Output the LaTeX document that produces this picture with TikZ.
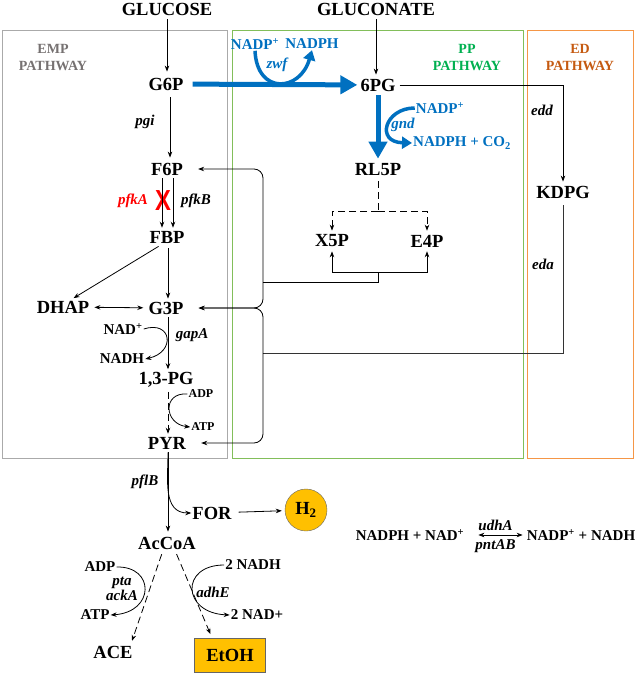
\documentclass[tikz,border=0pt]{standalone}
\usepackage{fontspec}
\setmainfont{Liberation Serif}
\newfontfamily\crossfont{Liberation Sans}
\usepackage{tikz}
\usetikzlibrary{arrows.meta,positioning,calc}

\definecolor{ppblue}{RGB}{0,112,192}
\definecolor{ppgreen}{RGB}{0,176,80}
\definecolor{boxgreen}{RGB}{130,190,90}
\definecolor{edorange}{RGB}{197,90,17}
\definecolor{boxorange}{RGB}{245,150,70}
\definecolor{empgray}{RGB}{118,113,113}
\definecolor{boxgray}{RGB}{170,170,170}
\definecolor{gold}{RGB}{255,192,0}

\tikzset{
  met/.style={font=\fontsize{18.5}{18.5}\selectfont\bfseries, inner sep=1pt},
  enz/.style={font=\fontsize{15}{15}\selectfont\bfseries\itshape, inner sep=1pt},
  cof/.style={font=\fontsize{15}{15}\selectfont\bfseries, inner sep=1pt},
  small/.style={font=\fontsize{12}{12}\selectfont\bfseries, inner sep=1pt},
  lbl/.style={font=\fontsize{14}{17}\selectfont\bfseries, align=center, inner sep=1pt},
  rxn/.style={line width=0.8pt, -{Stealth[length=6pt,width=4.5pt]}},
  rev/.style={line width=0.8pt, {Stealth[length=6pt,width=4.5pt]}-{Stealth[length=6pt,width=4.5pt]}},
  longdash/.style={dash pattern=on 7pt off 4pt},
  bigrxn/.style={ppblue, line width=5pt, -{Triangle[length=17pt,width=18pt]}},
  cofrxn/.style={ppblue, line width=3.5pt, -{Triangle[length=10pt,width=12pt]}},
}

\begin{document}
\begin{tikzpicture}[x=1pt, y=-1pt]
    \useasboundingbox (0,0) rectangle (638,674);

    % pathway boxes
    \draw[boxgray, line width=1pt] (2,31) rectangle (227,458);
    \draw[boxgreen, line width=1pt] (232,31) rectangle (523,458);
    \draw[boxorange, line width=1pt] (527,31) rectangle (633,458);
    \node[lbl, text=empgray] (emp) at (53,58) {EMP\\PATHWAY};
    \node[lbl, text=ppgreen] (pp) at (467,58) {PP\\PATHWAY};
    \node[lbl, text=edorange] (ed) at (580,58) {ED\\PATHWAY};

    % metabolites
    \node[met] (glc) at (167,9) {GLUCOSE};
    \node[met] (gln) at (376,9) {GLUCONATE};
    \node[met] (g6p) at (166,84) {G6P};
    \node[met] (pg6) at (378,85) {6PG};
    \node[met] (rl5p) at (378,170) {RL5P};
    \node[met] (x5p) at (332,241) {X5P};
    \node[met] (e4p) at (427,241) {E4P};
    \node[met] (kdpg) at (563,192) {KDPG};
    \node[met] (f6p) at (167,169) {F6P};
    \node[met] (fbp) at (167,237) {FBP};
    \node[met] (dhap) at (63,307) {DHAP};
    \node[met] (g3p) at (166,308) {G3P};
    \node[met] (pg13) at (166,380) {1,3-PG};
    \node[met] (pyr) at (167,443) {PYR};
    \node[met] (for) at (212,513) {FOR};
    \node[met] (accoa) at (167,543) {AcCoA};
    \node[met] (ace) at (113,652) {ACE};
    \node[met, draw=black!60, fill=gold, minimum width=71pt, minimum height=34pt] (etoh) at (230,655) {EtOH};
    \node[met, circle, draw=black!60, fill=gold, minimum size=42pt] (h2) at (306,510) {H\textsubscript{2}};

    % enzymes
    \node[enz] (pgi) at (145,122) {pgi};
    \node[enz, text=red] (pfka) at (133,201) {pfkA};
    \node[enz] (pfkb) at (196,201) {pfkB};
    \node[enz] (gapa) at (192,335) {gapA};
    \node[enz, text=ppblue] (zwf) at (277,65) {zwf};
    \node[enz, text=ppblue] (gnd) at (403,125) {gnd};
    \node[enz] (edd) at (542,110) {edd};
    \node[enz] (eda) at (543,264) {eda};
    \node[enz] (pflb) at (145,482) {pflB};
    \node[enz, align=center, font=\fontsize{15}{13}\selectfont\bfseries\itshape] (ptaack) at (122,589) {pta\\ackA};
    \node[enz] (adhe) at (213,592) {adhE};

    % cofactors
    \node[cof, text=ppblue] (nadp1) at (255,44) {NADP\textsuperscript{+}};
    \node[cof, text=ppblue] (nadph1) at (312,44) {NADPH};
    \node[cof, text=ppblue] (nadp2) at (440,108) {NADP\textsuperscript{+}};
    \node[cof, text=ppblue] (nadph2) at (462,143) {NADPH + CO\textsubscript{2}};
    \node[cof] (nad1) at (123,329) {NAD\textsuperscript{+}};
    \node[cof] (nadh1) at (122,359) {NADH};
    \node[small] (adp1) at (201,394) {ADP};
    \node[small] (atp1) at (203,427) {ATP};
    \node[cof] (adp2) at (100,567) {ADP};
    \node[cof] (atp2) at (95,615) {ATP};
    \node[cof] (nadh2) at (253,565) {2 NADH};
    \node[cof] (nad2) at (257,615) {2 NAD+};
    \node[cof] (trl) at (410,535) {NADPH + NAD\textsuperscript{+}};
    \node[cof] (trr) at (581,535) {NADP\textsuperscript{+} + NADH};

    % knockout mark
    \node[text=red, font=\fontsize{29}{29}\selectfont\bfseries\crossfont, xscale=0.82, inner sep=0pt] (ko) at (163,201) {X};

    % feeds
    \draw[rxn, shorten <=3pt, shorten >=5pt] (glc) -- (glc |- g6p.north);
    \draw[rxn, shorten <=3pt, shorten >=3pt] (gln) -- (gln |- pg6.north);

    % PP pathway (blue)
    \draw[bigrxn, shorten <=8pt, shorten >=2pt] (g6p) -- (pg6);
    \draw[cofrxn] (nadp1.south) .. controls (257,95) and (300,92) .. (nadph1.south);
    \draw[bigrxn, shorten <=3pt, shorten >=4pt] (pg6) -- (rl5p);
    \draw[cofrxn] (nadp2.west) .. controls (385,108) and (375,142) .. (nadph2.west);

    % PP non-oxidative branch
    \coordinate (jr) at (rl5p |- 0,211);
    \draw[line width=0.8pt, longdash, shorten <=4pt] (rl5p) -- (jr);
    \draw[rxn, longdash, shorten >=3pt] (jr) -| (x5p.north);
    \draw[rxn, longdash, shorten >=3pt] (jr) -| (e4p.north);
    \coordinate (jx) at (rl5p |- 0,272);
    \coordinate (jup) at (263,282);
    \coordinate (jlow) at (263,353);
    \draw[line width=0.8pt] (jup) -| (jx);
    \draw[rxn, shorten >=3pt] (jx) -| (x5p.south);
    \draw[rxn, shorten >=3pt] (jx) -| (e4p.south);
    \draw[rxn, rounded corners=9pt, shorten >=14pt] (jup) |- (f6p.east);
    \draw[rxn, rounded corners=9pt, shorten >=14pt] (jup) |- (g3p.east);

    % ED pathway
    \draw[rxn, shorten <=3pt, shorten >=3pt] (pg6.east) -| (kdpg.north);
    \draw[line width=0.8pt, black!80, shorten <=6pt] (kdpg.south) |- (jlow);
    \draw[rxn, rounded corners=9pt, shorten >=14pt] (jlow) |- (g3p.east);
    \draw[rxn, rounded corners=9pt, shorten >=14pt] (jlow) |- (pyr.east);

    % EMP pathway
    \draw[rxn, shorten <=6pt, shorten >=4pt] (g6p.south -| 170,0) -- (f6p.north -| 170,0);
    \foreach \dx in {-5,6} {
        \draw[rxn, shorten <=2pt, shorten >=2pt] ([xshift=\dx pt]f6p.south) -- ([xshift=\dx pt]fbp.north);
    }
    \draw[rxn, shorten <=4pt, shorten >=3pt] ([xshift=-5pt]fbp.south) -- ([xshift=8pt]dhap.north);
    \draw[rxn, shorten <=4pt, shorten >=2pt] (fbp.south -| 168,0) -- (g3p.north -| 168,0);
    \draw[rev, shorten <=4pt, shorten >=4pt] (dhap) -- (g3p);
    \draw[rxn, shorten <=2pt, shorten >=2pt] (g3p.south -| 168,0) -- (pg13.north -| 168,0);
    \draw[rxn] (nad1.east) .. controls (172,320) and (176,352) .. (nadh1.east);
    \draw[rxn, longdash, shorten <=3pt, shorten >=2pt] (pg13.south -| 168,0) -- (pyr.north -| 168,0);
    \draw[rxn] (adp1.west) .. controls (162,392) and (164,424) .. (atp1.west);

    % fermentation
    \draw[rxn, shorten <=2pt, shorten >=4pt] (pyr.south -| 168,0) -- (accoa.north -| 168,0);
    \draw[rxn, shorten <=2pt] (pyr.south -| 168,0) to[out=-90, in=180, looseness=1.1] (for.west);
    \draw[rxn, shorten <=6pt, shorten >=3pt] (for) -- (h2);
    \draw[rxn, longdash, shorten <=4pt, shorten >=4pt] ([xshift=-4pt]accoa.south) -- ([xshift=-3pt]ace.north east);
    \draw[rxn, longdash, shorten <=4pt, shorten >=4pt] ([xshift=8pt]accoa.south) -- ([xshift=-18pt]etoh.north);
    \draw[rxn] (adp2.east) .. controls (155,566) and (155,612) .. (atp2.east);
    \draw[rxn] (nadh2.west) .. controls (180,565) and (182,613) .. (nad2.west);

    % transhydrogenases
    \draw[rev, shorten <=13pt, shorten >=3pt] (trl.east) -- (trr.west)
        node[midway, above=3pt, enz] (udha) {udhA}
        node[midway, below=3pt, enz] (pntab) {pntAB};
\end{tikzpicture}
\end{document}
